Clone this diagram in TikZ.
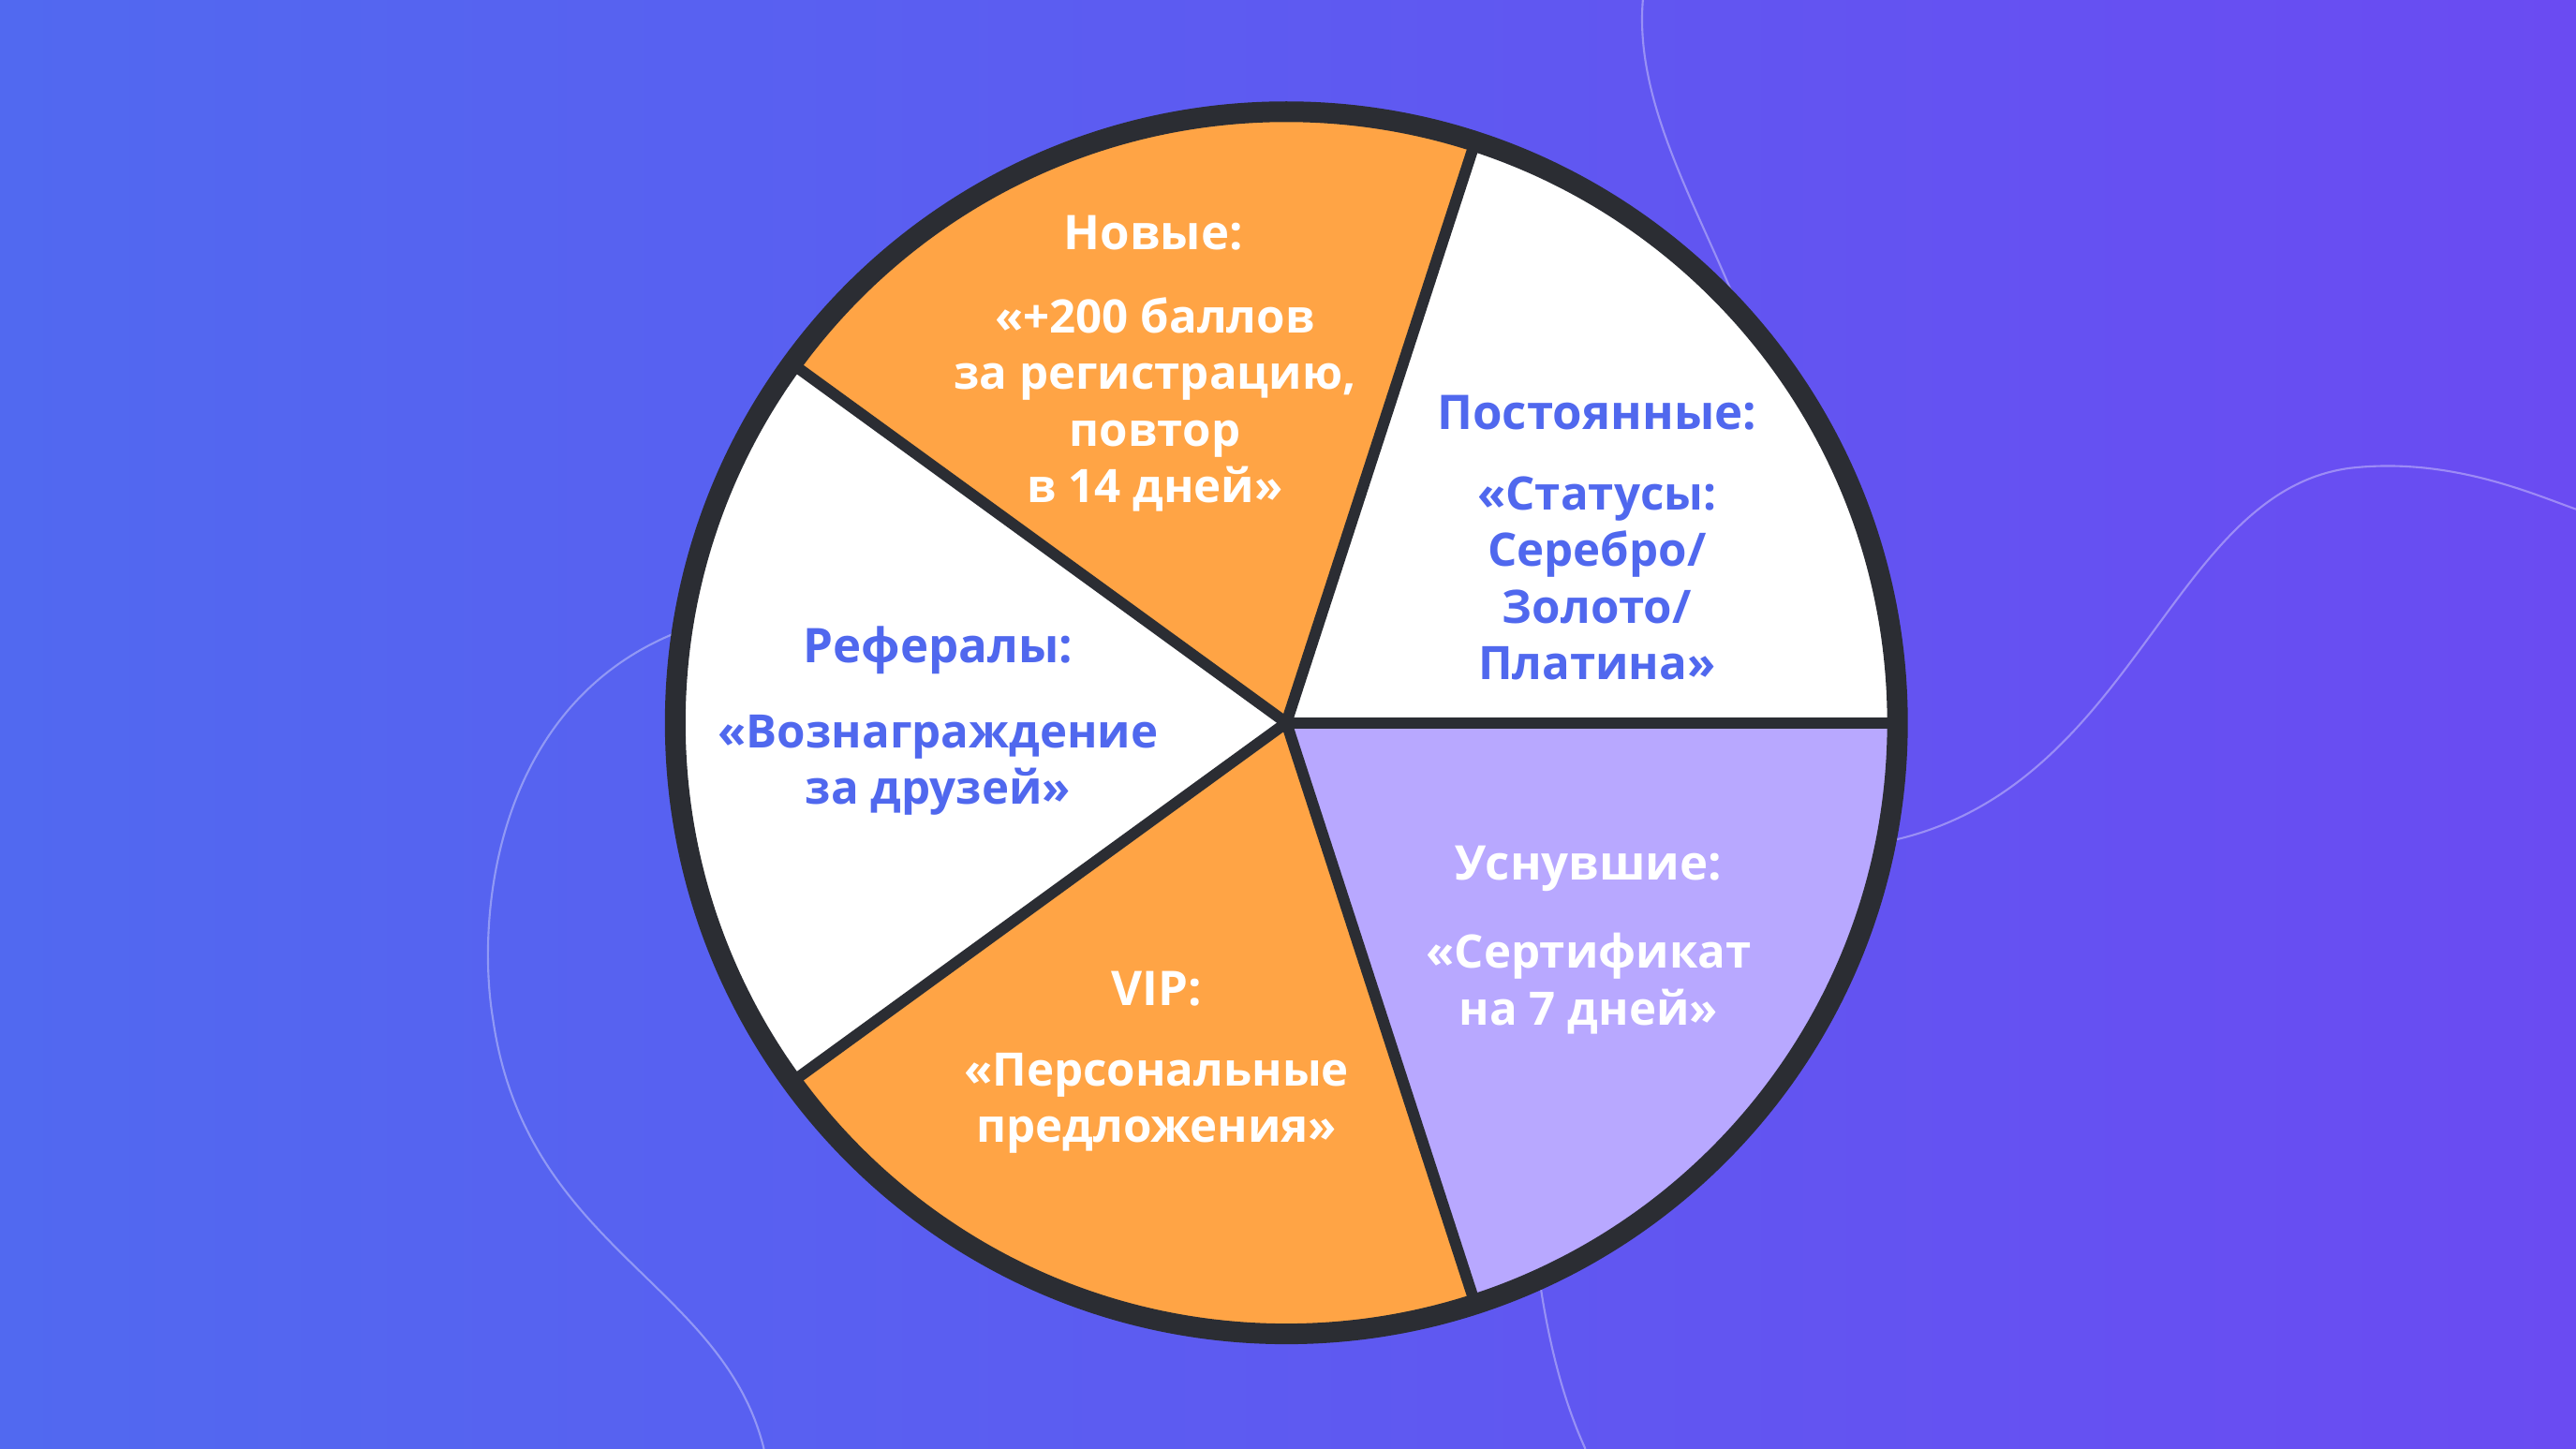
\documentclass[tikz,border=0pt]{standalone}
\usepackage{fontspec}
\setmainfont{Open Sans}
\definecolor{bgA}{HTML}{5169F0}
\definecolor{bgB}{HTML}{6A4BF2}
\definecolor{org}{HTML}{FFA445}
\definecolor{lav}{HTML}{B8A8FF}
\definecolor{rim}{HTML}{2B2D33}
\definecolor{txtblue}{HTML}{5068EE}
\begin{document}
\begin{tikzpicture}[x=0.017538cm,y=-0.017538cm,
  ttl/.style={font=\fontsize{14.5}{17}\selectfont\bfseries},
  bdy/.style={font=\fontsize{14}{17.2}\selectfont\bfseries, align=center},
  wedge/.style={draw=rim, line width=0.12cm, line join=round},
  deco/.style={draw=white, opacity=0.35, line width=0.6pt}]
\shade[left color=bgA, right color=bgB] (0,0) rectangle (1568,882);
\useasboundingbox (0,0) rectangle (1568,882);
% decorative curves
\draw[deco] (1000,0) .. controls (995,60) and (1030,120) .. (1055,180);
\draw[deco] (412,385) .. controls (300,430) and (290,560) .. (300,620) .. controls (320,760) and (440,780) .. (465,882);
\draw[deco] (1150,512) .. controls (1300,480) and (1320,300) .. (1430,285) .. controls (1490,278) and (1540,300) .. (1568,310);
\draw[deco] (938,785) .. controls (945,830) and (955,860) .. (965,882);
\coordinate (c) at (783,440);
\def\R{372}
\fill[white] (c) circle (\R);
\fill[org] (c) -- ++(72:\R) arc[start angle=72,end angle=144,radius=\R] -- cycle;
\fill[org] (c) -- ++(-144:\R) arc[start angle=-144,end angle=-72,radius=\R] -- cycle;
\fill[lav] (c) -- ++(0:\R) arc[start angle=0,end angle=72,radius=\R] -- cycle;
\foreach \a in {72,0,-72,-144,144} \draw[wedge] (c) -- ++(\a:\R);
\draw[rim, line width=0.22cm] (c) circle (\R);
% labels
\node[ttl, white] (t1) at (702,142) {Новые:};
\node[bdy, white, anchor=north] (b1) at (703,174) {«+200 баллов\\за регистрацию,\\повтор\\в 14 дней»};
\node[ttl, txtblue] (t2) at (972,251) {Постоянные:};
\node[bdy, txtblue, anchor=north] (b2) at (972,283) {«Статусы:\\Серебро/\\Золото/\\Платина»};
\node[ttl, txtblue] (t3) at (571,396) {Рефералы:};
\node[bdy, txtblue, anchor=north] (b3) at (571,428) {«Вознаграждение\\за друзей»};
\node[ttl, white] (t4) at (967,529) {Уснувшие:};
\node[bdy, white, anchor=north] (b4) at (967,561) {«Сертификат\\на 7 дней»};
\node[ttl, white] (t5) at (704,602) {VIP:};
\node[bdy, white, anchor=north] (b5) at (704,634) {«Персональные\\предложения»};
\end{tikzpicture}
\end{document}
